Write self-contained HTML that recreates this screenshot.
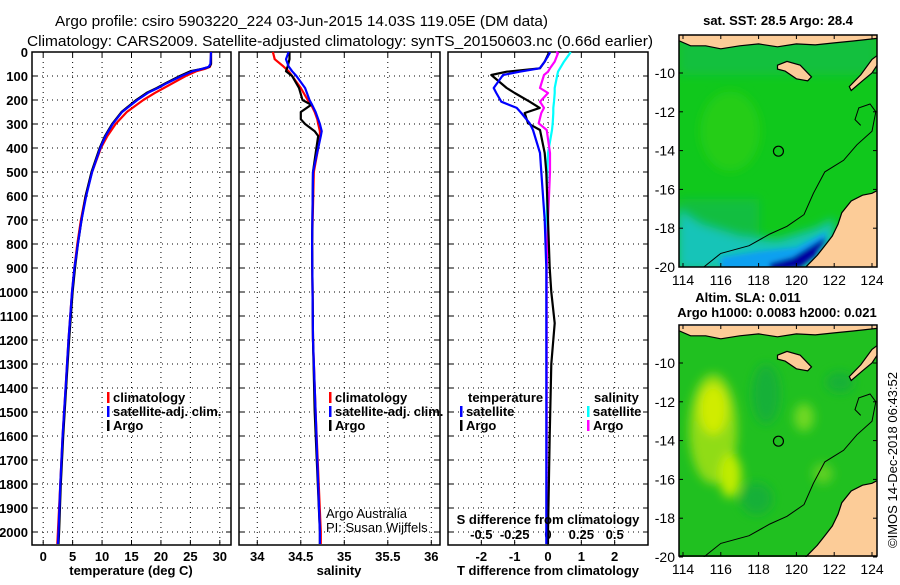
<!DOCTYPE html>
<html><head><meta charset="utf-8"><style>
html,body{margin:0;padding:0;background:#fff;}
svg text{font-family:"Liberation Sans",sans-serif;}
</style></head><body>
<svg id="fig" width="900" height="580" viewBox="0 0 900 580" xmlns="http://www.w3.org/2000/svg">
<defs>
<filter id="bl" x="-20%" y="-20%" width="140%" height="140%"><feGaussianBlur stdDeviation="5"/></filter>
<filter id="bl2" x="-20%" y="-20%" width="140%" height="140%"><feGaussianBlur stdDeviation="2.5"/></filter>
<clipPath id="c1"><rect x="679" y="35" width="198" height="232"/></clipPath>
<clipPath id="c2"><rect x="679" y="326" width="198" height="231"/></clipPath>
</defs>
<text x="55" y="26" font-size="15" textLength="493" lengthAdjust="spacingAndGlyphs">Argo profile: csiro 5903220_224 03-Jun-2015 14.03S 119.05E (DM data)</text>
<text x="27" y="46" font-size="15" textLength="626" lengthAdjust="spacingAndGlyphs">Climatology: CARS2009. Satellite-adjusted climatology: synTS_20150603.nc (0.66d earlier)</text>
<g id="plots"></g>
<g id="maps"></g>
<text transform="translate(897,548) rotate(-90)" font-size="13" textLength="176" lengthAdjust="spacingAndGlyphs">©IMOS 14-Dec-2018 06:43:52</text>
</svg>
<script>
// ---- data ----
const tempDepth=[0,50,62,70,80,100,130,150,170,200,250,300,350,400,500,600,700,800,900,1000,1200,1400,1600,1800,2000,2050];
const tempArgo=[28.5,28.5,28.2,27,25,23.2,20.8,19.3,17.6,15.8,13.3,11.7,10.5,9.6,8.2,7.2,6.5,5.9,5.4,5.0,4.4,3.9,3.4,3.0,2.7,2.6];
const tempClim=[28.5,28.5,28.3,27.5,26,24.2,22,20.5,19,17,14.2,12.3,10.9,9.8,8.3,7.2,6.4,5.8,5.3,4.9,4.3,3.8,3.3,2.9,2.5,2.4];
const tempSat=[28.5,28.4,28.1,27,25.4,23.5,21,19.5,17.8,16.0,13.4,11.8,10.6,9.7,8.3,7.3,6.5,5.9,5.3,4.9,4.3,3.8,3.3,2.9,2.6,2.5];
const salDepth=[0,30,60,80,100,150,200,220,250,280,300,330,350,400,500,800,1200,1500,2000,2050];
const salArgo=[34.37,34.37,34.35,34.33,34.4,34.48,34.52,34.62,34.5,34.5,34.55,34.66,34.7,34.68,34.64,34.63,34.64,34.66,34.72,34.72];
const salClim=[34.18,34.2,34.3,34.36,34.4,34.5,34.58,34.62,34.66,34.69,34.7,34.72,34.72,34.7,34.65,34.63,34.64,34.67,34.73,34.73];
const salSat=[34.36,34.33,34.36,34.4,34.45,34.55,34.6,34.63,34.67,34.7,34.72,34.74,34.73,34.7,34.64,34.63,34.64,34.67,34.72,34.72];
const dDepth=[0,5,40,68,82,96,150,171,207,233,254,297,325,421,500,700,900,1000,1130,1300,1600,2000,2050];
const dTArgo=[0.0,0.02,-0.1,-0.24,-1.24,-1.7,-1.24,-1.0,-0.55,-0.25,-0.7,-0.6,-0.24,-0.1,-0.05,0.0,0.05,0.1,0.2,0.1,0.05,0.0,0.0];
const dTSat=[0.05,0.05,-0.1,-0.25,-0.85,-1.35,-1.63,-1.55,-1.4,-0.94,-0.8,-0.55,-0.45,-0.24,-0.2,-0.1,-0.05,-0.05,-0.05,-0.05,-0.05,-0.05,-0.05];
const dSArgo=[0.06,0.075,0.05,0.015,0.0,-0.03,-0.06,0.0,-0.06,-0.03,-0.05,-0.07,-0.01,0.015,0.015,0.0,-0.01,-0.01,-0.01,-0.01,-0.01,-0.01,-0.01];
const dSSat=[0.17,0.165,0.12,0.09,0.075,0.07,0.05,0.05,0.045,0.04,0.04,0.035,0.03,0.0,-0.005,-0.01,-0.01,-0.01,-0.01,-0.01,-0.01,-0.01,-0.01];
const depthTicks=[0,100,200,300,400,500,600,700,800,900,1000,1100,1200,1300,1400,1500,1600,1700,1800,1900,2000];
const tTicks=[0,5,10,15,20,25,30];
const sTicks=[34,34.5,35,35.5,36];
const dTTicks=[-2,-1,0,1,2];
const dSTicks=[-0.5,-0.25,0,0.25,0.5];
const dSTickLabels=["-0.5","-0.25","0","0.25","0.5"];
const lonTicks=[114,116,118,120,122,124];
const latTicks=[-10,-12,-14,-16,-18,-20];
const argoLon=119.05, argoLat=-14.03;

const NS='http://www.w3.org/2000/svg';
function el(tag,attrs,parent,txt){const e=document.createElementNS(NS,tag);for(const k in attrs)e.setAttribute(k,attrs[k]);if(txt!==undefined)e.textContent=txt;parent.appendChild(e);return e;}
const P=document.getElementById('plots');
const Y0=52, Y1=545; const yD=d=>Y0+d*0.24;
const panels=[
 {x0:32,x1:231,v0:-1.9,v1:31.9,name:'temperature-panel'},
 {x0:239,x1:440,v0:33.79,v1:36.1,name:'salinity-panel'},
 {x0:448,x1:648,v0:-3,v1:3,name:'difference-panel'}];
function sx(p,v){return p.x0+(v-p.v0)/(p.v1-p.v0)*(p.x1-p.x0);}
panels.forEach((p,i)=>{
 const g=el('g',{},P);
 
 
 const ticks=i==0?tTicks:i==1?sTicks:dTTicks;
 ticks.forEach(t=>{const x=sx(p,t);
  const gl=el('line',{x1:x,y1:Y0,x2:x,y2:Y1,stroke:'#000','stroke-width':1,'stroke-dasharray':'1,4'},g);
  
  el('line',{x1:x,y1:Y1,x2:x,y2:Y1-5,stroke:'#000'},g);el('line',{x1:x,y1:Y0,x2:x,y2:Y0+5,stroke:'#000'},g);
 });
 depthTicks.forEach(d=>{const y=yD(d);
  el('line',{x1:p.x0,y1:y,x2:p.x1,y2:y,stroke:'#000','stroke-width':1,'stroke-dasharray':'1,4'},g);
  el('line',{x1:p.x0,y1:y,x2:p.x0+5,y2:y,stroke:'#000'},g);el('line',{x1:p.x1,y1:y,x2:p.x1-5,y2:y,stroke:'#000'},g);
 });
 const fr=el('rect',{x:p.x0,y:Y0,width:p.x1-p.x0,height:Y1-Y0,fill:'none',stroke:'#000','stroke-width':1.5},g);
 
 if(i<2){ticks.forEach(t=>{const tl=el('text',{x:sx(p,t),y:Y1+16,'font-size':13,'font-weight':'bold','text-anchor':'middle'},g,String(t));
  });}
});
depthTicks.forEach(d=>{const t=el('text',{x:28,y:yD(d)+5,'font-size':13,'font-weight':'bold','text-anchor':'end'},P,String(d));
 });
const p3=panels[2];
dTTicks.forEach(t=>{const tl=el('text',{x:sx(p3,t),y:Y1+16,'font-size':13,'font-weight':'bold','text-anchor':'middle'},P,String(t));
 });
dSTicks.forEach((t,k)=>{const tl=el('text',{x:sx(p3,t*4),y:539,'font-size':13,'font-weight':'bold','text-anchor':'middle'},P,dSTickLabels[k]);
 });
function line(p,depths,vals,color,name,scale){
 const pts=depths.map((d,k)=>sx(p,vals[k]*(scale||1)).toFixed(1)+','+yD(d).toFixed(1)).join(' ');
 const l=el('polyline',{points:pts,fill:'none',stroke:color,'stroke-width':2.2,'stroke-linejoin':'round'},P);
 
}
line(panels[0],tempDepth,tempClim,'#f00','temp-climatology-line');
line(panels[0],tempDepth,tempArgo,'#000','temp-argo-line');
line(panels[0],tempDepth,tempSat,'#00f','temp-satellite-line');
line(panels[1],salDepth,salClim,'#f00','sal-climatology-line');
line(panels[1],salDepth,salArgo,'#000','sal-argo-line');
line(panels[1],salDepth,salSat,'#00f','sal-satellite-line');
line(p3,dDepth,dSSat,'#0ff','s-diff-satellite-line',4);
line(p3,dDepth,dSArgo,'#f0f','s-diff-argo-line',4);
line(p3,dDepth,dTArgo,'#000','t-diff-argo-line');
line(p3,dDepth,dTSat,'#00f','t-diff-satellite-line');
[['x-axis-title-temperature',131,'temperature (deg C)'],['x-axis-title-salinity',339,'salinity'],['x-axis-title-t-diff',548,'T difference from climatology']].forEach(a=>{
 const t=el('text',{x:a[1],y:575,'font-size':13,'font-weight':'bold','text-anchor':'middle'},P,a[2]);
 });
const st=el('text',{x:548,y:524,'font-size':13,'font-weight':'bold','text-anchor':'middle'},P,'S difference from climatology');

function leg(x,y,color,label,name){const g=el('g',{},P);
 el('rect',{x:x,y:y-10,width:2.5,height:11,fill:color},g);el('text',{x:x+6,y:y,'font-size':13,'font-weight':'bold'},g,label);}
leg(107,402,'#f00','climatology','legend-climatology');
leg(107,416,'#00f','satellite-adj. clim.','legend-satellite-adj');
leg(107,430,'#000','Argo','legend-argo');
leg(329,402,'#f00','climatology','legend-climatology-sal');
leg(329,416,'#00f','satellite-adj. clim.','legend-satellite-adj-sal');
leg(329,430,'#000','Argo','legend-argo-sal');
const lt=el('text',{x:468,y:402,'font-size':13,'font-weight':'bold'},P,'temperature');
leg(460,416,'#00f','satellite','legend-t-satellite');
leg(460,430,'#000','Argo','legend-t-argo');
const ls=el('text',{x:594,y:402,'font-size':13,'font-weight':'bold'},P,'salinity');
leg(587,416,'#0ff','satellite','legend-s-satellite');
leg(587,430,'#f0f','Argo','legend-s-argo');
const c1=el('text',{x:326,y:518,'font-size':13},P,'Argo Australia');
const c2=el('text',{x:326,y:532,'font-size':13},P,'PI: Susan Wijffels');

// ---- maps ----
const M=document.getElementById('maps');
const lonX=lon=>683+(lon-114)*18.9;
const australia=[[124.4,-16.0],[124.0,-16.2],[123.5,-16.3],[122.9,-16.6],[122.4,-17.2],[122.2,-17.8],[121.9,-18.4],[121.5,-18.9],[121.1,-19.4],[120.6,-19.9],[120.3,-20.2],[124.4,-20.2]];
const topIslands=[[113.7,-8.3],[114.4,-8.6],[115.2,-8.6],[116,-8.75],[117,-8.6],[118,-8.5],[119,-8.65],[120,-8.5],[121,-8.55],[122,-8.45],[123,-8.35],[124.4,-8.2],[124.4,-7.9],[113.7,-7.9]];
const sumba=[[119.0,-9.6],[119.5,-9.4],[120.2,-9.6],[120.8,-10.2],[120.6,-10.4],[120,-10.3],[119.4,-9.9],[119,-9.8]];
const timor=[[122.9,-10.9],[123.5,-10.4],[124.0,-10.0],[124.4,-9.4],[124.4,-9.0],[124.0,-9.3],[123.4,-10.1],[122.8,-10.7]];
const contour=[[115.1,-20],[116,-19.3],[117.5,-18.9],[118.6,-18.3],[119.5,-17.9],[120.4,-17.3],[120.9,-16.2],[121.5,-15.1],[122.5,-14.5],[123.2,-13.7],[124.0,-13.0],[124.2,-12.0],[123.9,-11.6],[123.3,-11.8],[123.1,-12.4],[123.4,-12.7]];
const sstCyan=[[113.7,-17.0],[115,-17.8],[117,-18.4],[119,-18.6],[121,-18.0],[122,-17.5],[122,-20.2],[113.7,-20.2]];
const sstBlue=[[116.0,-19.5],[118,-19.2],[120,-19.0],[121.6,-18.2],[121.2,-19.2],[120,-19.9],[119,-20.2],[116,-20.2]];
const sstNavy=[[118.6,-19.8],[119.8,-19.5],[121.3,-18.6],[121.6,-18.5],[121,-19.4],[120.2,-20.0],[118.6,-20.2]];
function drawMap(yOff,clip,name,title1,title2,kind){
 const latY=lat=>73+(-10-lat)*19.4+yOff;
 const pp=a=>a.map(q=>lonX(q[0]).toFixed(1)+','+latY(q[1]).toFixed(1)).join(' ');
 const g=el('g',{},M);
 const cg=el('g',{'clip-path':'url(#'+clip+')'},g);
 if(kind==='sst'){
  el('rect',{x:679,y:35+yOff,width:198,height:232,fill:'#10c81c'},cg);
  const f=el('g',{filter:'url(#bl)'},cg);
  el('rect',{x:679,y:35+yOff,width:198,height:40,fill:'#10b860',opacity:0.5},f);
  el('ellipse',{cx:lonX(116.5),cy:latY(-13),rx:30,ry:40,fill:'#30d010',opacity:0.6},f);
  el('rect',{x:679,y:latY(-16.5),width:80,height:40,fill:'#10b858',opacity:0.6},f);
  el('polygon',{points:pp(sstCyan),fill:'#18c4b8'},f);
  const f2=el('g',{filter:'url(#bl2)'},cg);
  el('polygon',{points:pp(sstBlue),fill:'#08a0f0'},f2);
  el('polygon',{points:pp(sstNavy),fill:'#0000a0'},f2);
 } else {
  el('rect',{x:679,y:35+yOff,width:198,height:232,fill:'#20c020'},cg);
  const f=el('g',{filter:'url(#bl)'},cg);
  el('ellipse',{cx:lonX(115.6),cy:latY(-13.4),rx:24,ry:55,fill:'#90dc18'},f);
  el('ellipse',{cx:lonX(115.6),cy:latY(-12.4),rx:14,ry:25,fill:'#d0ec00'},f);
  el('ellipse',{cx:lonX(116.5),cy:latY(-15.8),rx:11,ry:22,fill:'#c0ec00'},f);
  el('ellipse',{cx:lonX(118.4),cy:latY(-11.6),rx:14,ry:30,fill:'#14b038'},f);
  el('ellipse',{cx:lonX(117.9),cy:latY(-17.0),rx:16,ry:16,fill:'#14b038'},f);
  el('ellipse',{cx:lonX(120.4),cy:latY(-12.8),rx:10,ry:14,fill:'#70d820'},f);
  el('ellipse',{cx:lonX(122.3),cy:latY(-11.0),rx:14,ry:10,fill:'#14b038'},f);
  el('ellipse',{cx:lonX(121.4),cy:latY(-15.7),rx:10,ry:10,fill:'#60d020'},f);
 }
 [australia,topIslands,sumba,timor].forEach(a=>{const l=el('polygon',{points:pp(a),fill:'#fccc98',stroke:'#000','stroke-width':1.2},cg);
  });
 el('polyline',{points:pp(contour),fill:'none',stroke:'#000','stroke-width':1},cg);
 const c=el('circle',{cx:lonX(argoLon),cy:latY(argoLat),r:5,fill:'none',stroke:'#000','stroke-width':1.2},g);
 
 el('rect',{x:679,y:35+yOff,width:198,height:232-(yOff?1:0),fill:'none',stroke:'#000','stroke-width':1.5},g);
 const bot=35+yOff+232-(yOff?1:0);
 lonTicks.forEach(l=>{const x=lonX(l);el('line',{x1:x,y1:bot,x2:x,y2:bot-4,stroke:'#000'},g);el('line',{x1:x,y1:35+yOff,x2:x,y2:39+yOff,stroke:'#000'},g);
  const t=el('text',{x:x,y:bot+18,'font-size':14,'text-anchor':'middle'},g,String(l));});
 latTicks.forEach(l=>{const y=latY(l);el('line',{x1:679,y1:y,x2:683,y2:y,stroke:'#000'},g);el('line',{x1:877,y1:y,x2:873,y2:y,stroke:'#000'},g);
  const t=el('text',{x:675,y:y+5,'font-size':14,'text-anchor':'end'},g,String(l));});
 title1&&(()=>{const t=el('text',{x:title1[1],y:title1[2],'font-size':13,'font-weight':'bold','text-anchor':'middle'},g,title1[0]);})();
 title2&&(()=>{const t=el('text',{x:title2[1],y:title2[2],'font-size':13,'font-weight':'bold','text-anchor':'middle'},g,title2[0]);})();
}
drawMap(0,'c1','sst-map',['sat. SST: 28.5 Argo: 28.4',778,25],null,'sst');
drawMap(290,'c2','sla-map',['Altim. SLA: 0.011',748,302],['Argo h1000: 0.0083 h2000: 0.021',777,317],'sla');
</script>
</body></html>
